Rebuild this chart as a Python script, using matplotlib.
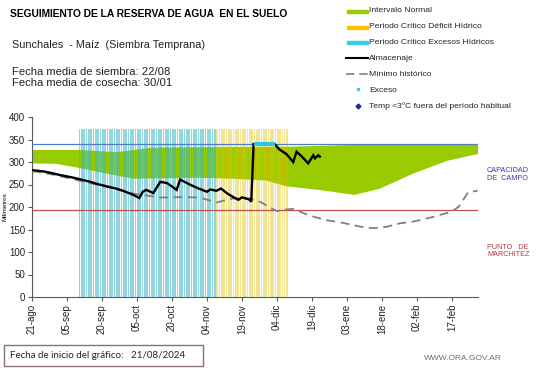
import matplotlib
matplotlib.use("Agg")
import matplotlib.pyplot as plt
import numpy as np
from matplotlib.patches import Rectangle
from matplotlib.lines import Line2D

plt.rcParams['font.family'] = ['Liberation Sans', 'DejaVu Sans']

# ---------------- data ----------------
tick_labels = ["21-ago", "05-sep", "20-sep", "05-oct", "20-oct", "04-nov", "19-nov",
               "04-dic", "19-dic", "03-ene", "18-ene", "02-feb", "17-feb"]
tick_days = [0, 15, 30, 45, 60, 75, 90, 105, 120, 135, 150, 165, 180]

# Intervalo normal (upper / lower)
normal_up_days = [0, 20, 36, 51, 72, 109, 138, 160, 191]
normal_up_vals = [328, 328, 323, 333, 334, 335, 339, 340, 340]
normal_lo_days = [0, 10, 20, 29, 43, 58, 72, 86, 100, 109, 123, 138, 146, 149, 163, 178, 191]
normal_lo_vals = [298, 297, 288, 278, 264, 265, 266, 264, 260, 247, 239, 228, 238, 242, 275, 304, 319]

# Almacenaje
alm_days = [0, 5, 8, 12, 17, 21, 25, 28, 32, 36, 39, 43, 46, 47.5, 49, 52, 55, 58, 62, 63.5,
            68, 71, 75, 76.5, 79, 81, 84, 87, 88.5, 90, 93, 94, 95, 104, 106, 109, 112,
            113.4, 115.5, 118.4, 120.6, 121.3, 122.7, 123.4]
alm_vals = [282, 279, 276, 271, 266, 261, 256, 251, 246, 241, 236, 228, 220, 234, 238, 231, 256,
            253, 238, 261, 249, 242, 234, 239, 236, 241, 229, 220, 216, 221.5, 217, 212, 340,
            340, 328, 318, 300, 323, 313, 297, 315, 308, 315, 312]

# Minimo historico
min_days = [0, 10, 20, 30, 40, 44, 50, 55, 65, 72, 79, 86, 93, 98, 103, 105, 108, 112, 118,
            121, 126, 133, 143, 147, 152, 158, 163, 172, 180, 183, 187, 191]
min_vals = [280, 271, 259, 247, 235, 229, 225, 221, 222, 221, 210, 219, 219, 211, 196, 191, 194,
            196, 183, 178, 171, 165, 154, 153, 156, 164, 167, 178, 190, 201, 233, 236]

# Exceso
exceso_days = [95, 96, 97, 98, 99, 100, 101, 102, 103, 104]
exceso_vals = [340, 340, 340, 340, 340, 340, 340, 340, 340, 340]

# Critical periods (days from start)
exceso_period = (20, 79)
deficit_period = (79, 110)
stripe_top = 373

capacidad = 340
marchitez = 193

# ---------------- figure ----------------
W, H = 541, 368
fig = plt.figure(figsize=(W / 100, H / 100), dpi=100)

def fx(px):
    return px / W

def fy(py):
    return 1 - py / H

ax = fig.add_axes([fx(32), fy(297), fx(478) - fx(32), fy(117) - fy(297)])
ax.set_xlim(0, 191.2)
ax.set_ylim(0, 400)

grid = np.linspace(0, 191, 400)
up = np.interp(grid, normal_up_days, normal_up_vals)
lo = np.interp(grid, normal_lo_days, normal_lo_vals)
ax.fill_between(grid, lo, up, color='#99cc00', lw=0, zorder=1)

# stripes
cy_days = np.arange(exceso_period[0], exceso_period[1], 1.0)
ye_days = np.arange(deficit_period[0], deficit_period[1], 1.0)
ax.bar(cy_days + 0.35, [stripe_top] * len(cy_days), width=0.65, color='#33b5c5', alpha=0.55,
       lw=0, zorder=2, align='center')
ax.bar(ye_days + 0.35, [stripe_top] * len(ye_days), width=0.65, color='#e3c000', alpha=0.42,
       lw=0, zorder=2, align='center')

ax.axhline(capacidad, color='#4f7fc0', lw=0.9, zorder=3)
ax.axhline(marchitez, color='#c0504d', lw=0.9, zorder=3)

ax.plot(min_days, min_vals, color='#808080', lw=1.3, dashes=(5, 3), zorder=4)
ax.plot(alm_days, alm_vals, color='black', lw=1.7, zorder=5, solid_joinstyle='miter')
ax.plot(exceso_days, exceso_vals, color='#33c3dd', lw=3.0, zorder=6, solid_capstyle='butt')

for s in ['top', 'right']:
    ax.spines[s].set_visible(False)
for s in ['left', 'bottom']:
    ax.spines[s].set_color('#595959')
    ax.spines[s].set_linewidth(0.8)
ax.set_yticks(range(0, 401, 50))
ax.set_xticks(tick_days)
ax.set_xticklabels(tick_labels, rotation=90)
ax.tick_params(axis='both', labelsize=7, colors='#595959', length=3, width=0.8,
               labelcolor='#222222', pad=2)
ax.set_ylabel("Milímetros", fontsize=4.5, labelpad=1)

# ---------------- texts ----------------
fig.text(fx(10), fy(14), "SEGUIMIENTO DE LA RESERVA DE AGUA  EN EL SUELO", fontsize=7.4,
         fontweight='bold', va='center', ha='left')
fig.text(fx(12), fy(45), "Sunchales  - Maíz  (Siembra Temprana)", fontsize=7.8, va='center',
         color='#222222')
fig.text(fx(12), fy(72), "Fecha media de siembra: 22/08", fontsize=8.1, va='center', color='#222222')
fig.text(fx(12), fy(83), "Fecha media de cosecha: 30/01", fontsize=8.1, va='center', color='#222222')

# legend
leg_fs = 6.1
fig.patches.append(Rectangle((fx(347), fy(13)), fx(21), fy(10) - fy(13), color='#99cc00',
                             transform=fig.transFigure))
fig.patches.append(Rectangle((fx(347), fy(29)), fx(21), fy(26) - fy(29), color='#ffc000',
                             transform=fig.transFigure))
fig.patches.append(Rectangle((fx(347), fy(44)), fx(21), fy(41) - fy(44), color='#33ccee',
                             transform=fig.transFigure))
fig.lines.append(Line2D([fx(346), fx(368)], [fy(58), fy(58)], color='black', lw=1.5,
                        transform=fig.transFigure))
fig.lines.append(Line2D([fx(346), fx(368)], [fy(74), fy(74)], color='#808080', lw=1.2,
                        dashes=(5, 3), transform=fig.transFigure))
fig.lines.append(Line2D([fx(358)], [fy(89)], color='#33ccee', marker='s', ms=2, lw=0,
                        transform=fig.transFigure))
fig.lines.append(Line2D([fx(358)], [fy(106)], color='#1f2fa0', marker='D', ms=2.5, lw=0,
                        transform=fig.transFigure))
leg_items = [(11, "Intervalo Normal"), (27, "Periodo Crítico Déficit Hídrico"),
             (43, "Periodo Crítico Excesos Hídricos"), (58, "Almacenaje"),
             (74, "Mínimo histórico"), (90, "Exceso"),
             (106, "Temp <3°C fuera del período habitual")]
for yy, t in leg_items:
    fig.text(fx(369), fy(yy), t, fontsize=leg_fs, va='center', ha='left', color='#222222')

fig.text(fx(487), fy(174.5), "CAPACIDAD\nDE  CAMPO", fontsize=5.2, color='#3a3aa0', va='center',
         linespacing=1.1)
fig.text(fx(487), fy(251), "PUNTO   DE\nMARCHITEZ", fontsize=5.2, color='#b03a3a', va='center',
         linespacing=1.1)

fig.patches.append(Rectangle((fx(4), fy(366)), fx(203) - fx(4), fy(345) - fy(366), fill=False,
                             ec='#8a7070', lw=1.0, transform=fig.transFigure))
fig.text(fx(10), fy(355.5), "Fecha de inicio del gráfico:   21/08/2024", fontsize=7,
         family=['Lato', 'DejaVu Sans'], va='center', color='#222222')
fig.text(fx(424), fy(358), "WWW.ORA.GOV.AR", fontsize=6, color='#707070', va='center')

fig.savefig("out.png", dpi=100)
